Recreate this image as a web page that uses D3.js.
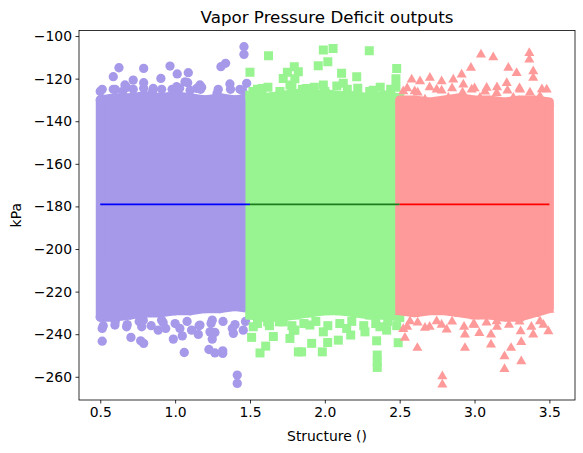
<!DOCTYPE html>
<html>
<head>
<meta charset="utf-8">
<script src="https://cdn.jsdelivr.net/npm/d3@7"></script>
<style>
  body { margin: 0; background: #fff; }
  text { font-family: "DejaVu Sans", sans-serif; fill: #000; }
</style>
</head>
<body>
<svg id="chart" width="583" height="453"></svg>
<script>
/*
  Vapor Pressure Deficit outputs - scatter of three structures
*/

// ---------------- data ----------------
var structures = ["purple", "green", "red"];
var colors = ["#a699ea", "#98f391", "#ff9a9a"];
var lineColors = ["#0000ff", "#1b7d1b", "#ff0000"];
var shapes = ["circle", "square", "triangle"];

var xTicks = [0.5, 1.0, 1.5, 2.0, 2.5, 3.0, 3.5];
var yTicks = [-260, -240, -220, -200, -180, -160, -140, -120, -100];

// each structure spans one unit of x
var spans = [[0.5, 1.5], [1.5, 2.5], [2.5, 3.5]];
var means = [-179.0, -179.0, -179.0];

// dense core of each cloud: top / bottom edge at stations 0.1 apart
var purpleX = [0.5, 0.6, 0.7, 0.8, 0.9, 1.0, 1.1, 1.2, 1.3, 1.4, 1.5];
var purpleTop = [-130, -129, -129, -128, -129, -128, -129, -130, -129, -130, -129];
var purpleBottom = [-232, -232, -231, -230, -230, -229, -229, -228, -228, -227, -228];

var greenX = [1.5, 1.6, 1.7, 1.8, 1.9, 2.0, 2.1, 2.2, 2.3, 2.4, 2.5];
var greenTop = [-128, -129, -128, -127, -128, -127, -128, -128, -129, -128, -129];
var greenBottom = [-231, -232, -232, -231, -230, -229, -229, -230, -231, -231, -232];

var redX = [2.5, 2.6, 2.7, 2.8, 2.9, 3.0, 3.1, 3.2, 3.3, 3.4, 3.5];
var redTop = [-130, -130, -131, -130, -129, -130, -130, -131, -130, -130, -131];
var redBottom = [-229, -230, -229, -229, -230, -231, -231, -232, -232, -230, -228];

// points packed just outside the core
var purpleFringe = [
  [0.5, -126], [0.6, -125], [0.65, -126], [0.72, -125], [0.79, -124.5], [0.85, -126],
  [0.91, -125], [0.98, -125], [1.03, -124.5], [1.1, -125.5], [1.17, -125], [1.28, -127],
  [1.37, -125], [1.45, -125.5],
  [0.52, -236], [0.6, -234], [0.68, -235.5], [0.76, -234], [0.84, -236], [0.92, -234.5],
  [1.0, -235], [1.08, -234], [1.16, -236], [1.24, -235], [1.32, -234], [1.4, -235.5],
  [1.47, -234]
];
var greenFringe = [
  [1.55, -125], [1.62, -124], [1.7, -126], [1.78, -123.5], [1.85, -125], [1.93, -124],
  [2.0, -126], [2.08, -123.5], [2.15, -125], [2.22, -124.5], [2.3, -126], [2.37, -124],
  [2.44, -125],
  [1.55, -235], [1.63, -236], [1.7, -234], [1.78, -236], [1.86, -235], [1.94, -234],
  [2.02, -236], [2.1, -235], [2.18, -234], [2.26, -236], [2.34, -235], [2.42, -234],
  [2.48, -236]
];
var redFringe = [
  [2.55, -124], [2.62, -126], [2.7, -123.5], [2.78, -125], [2.85, -124], [2.92, -126],
  [3.0, -124], [3.07, -125.5], [3.15, -123.5], [3.22, -125], [3.3, -124], [3.37, -126],
  [3.45, -124.5],
  [2.55, -236], [2.62, -234], [2.7, -236], [2.78, -235], [2.85, -233.5], [2.93, -236],
  [3.0, -235], [3.08, -234], [3.15, -236], [3.23, -235], [3.3, -233.5], [3.38, -236],
  [3.46, -235]
];

// scattered points further out
var purpleOutliers = [
  [1.46, -105], [1.46, -108.6], [0.625, -114.9], [0.79, -115.2], [0.966, -114.1],
  [1.088, -117.2], [1.306, -114.4], [1.337, -112.8], [0.587, -119.1], [1.014, -117.8],
  [0.905, -119.9], [0.513, -125], [0.72, -120.7], [0.79, -121.9], [1.084, -121.9],
  [1.177, -124.1], [1.288, -125], [1.366, -122.5], [1.478, -122.2], [1.288, -129.3],
  [0.587, -125], [0.676, -124.1], [0.854, -124.6], [1.01, -123.8], [1.144, -124.6],
  [1.433, -125], [1.166, -123], [0.665, -123], [1.066, -121.5],
  [0.513, -237.3], [0.513, -243.3], [0.705, -241.5], [0.77, -243.1], [0.79, -244.3],
  [0.777, -236.5], [0.887, -238.1], [0.937, -237.3], [0.91, -233.4], [0.988, -242.3],
  [1.048, -240.8], [1.061, -248.6], [1.11, -238.1], [1.155, -240.1], [1.233, -238.9],
  [1.266, -239.2], [1.248, -233.4], [1.248, -242.3], [1.226, -247.2], [1.266, -248.8],
  [1.318, -247.8], [1.318, -249], [1.389, -239.6], [1.382, -237.3], [1.455, -238.1],
  [1.415, -259.2], [1.415, -263.1], [0.598, -235.7], [0.676, -236.5], [1.032, -237.3],
  [1.166, -235.7], [0.787, -233.4]
];
var greenOutliers = [
  [1.624, -109.3], [1.99, -106.6], [2.055, -105.8], [2.297, -106.9], [1.5, -117],
  [1.956, -114], [2.02, -112.1], [2.48, -115.2], [1.796, -114.4], [1.823, -116.8],
  [1.722, -119.9], [2.112, -117.5], [2.213, -119.1], [1.582, -124.6], [1.879, -124.6],
  [1.99, -123], [2.123, -122.2], [2.324, -125.4], [2.413, -127.7], [1.656, -128.5],
  [1.767, -123], [2.475, -120], [2.475, -124], [1.52, -126], [1.8, -120], [1.75, -117],
  [1.511, -241.5], [1.567, -248.8], [1.605, -245.6], [1.656, -241.1], [1.618, -234.2],
  [1.696, -234.2], [1.522, -236.5], [1.767, -242], [1.789, -238.1], [1.823, -248.3],
  [1.845, -248.3], [1.912, -244.3], [1.983, -248.3], [2.019, -243.9], [2.09, -242.8],
  [2.173, -240.4], [2.268, -238.9], [2.346, -243.1], [2.35, -249.8], [2.35, -255.6],
  [2.35, -253], [2.49, -244], [1.8, -238.1], [1.99, -238.9], [2.413, -238.1],
  [1.722, -234.2], [1.9, -235.7], [2.146, -237.3], [2.368, -236.5]
];
var redOutliers = [
  [3.043, -108.1], [3.125, -109.4], [3.366, -107.4], [3.366, -110.5], [2.976, -114.4],
  [3.226, -114.4], [3.281, -116.8], [3.392, -116], [2.914, -117.5], [2.58, -119.9],
  [2.636, -120.7], [2.702, -119.1], [2.78, -120.7], [2.858, -119.9], [2.925, -122.2],
  [3.081, -123.8], [3.215, -121.5], [3.392, -119.1], [3.482, -124.6], [2.524, -125.4],
  [2.6, -125.4], [2.747, -124.6], [2.981, -124.6], [3.148, -126.2], [3.304, -124.6],
  [2.669, -129.3], [2.825, -128.5], [3.036, -128.5], [3.259, -128.5], [3.437, -127.7],
  [2.618, -245.9], [2.785, -259.2], [2.785, -263.1], [2.936, -245.9], [2.936, -239.6],
  [3.032, -238.9], [3.11, -239.6], [3.11, -244.3], [3.2, -249.8], [3.2, -255.8],
  [3.244, -245.9], [3.308, -238.1], [3.312, -243.1], [3.312, -252.2], [3.392, -239.6],
  [3.493, -238.1], [2.535, -241.1], [2.524, -237], [2.669, -236.5], [2.814, -237.3],
  [2.992, -234.9], [3.148, -233.4], [3.437, -233.4], [2.569, -233.4], [2.747, -233.4]
];

var coreX = [purpleX, greenX, redX];
var coreTop = [purpleTop, greenTop, redTop];
var coreBottom = [purpleBottom, greenBottom, redBottom];
var fringes = [purpleFringe, greenFringe, redFringe];
var outliers = [purpleOutliers, greenOutliers, redOutliers];

// ---------------- layout ----------------
var margin = {left: 79, top: 30.5};
var width = 496, height = 369.5;

var svg = d3.select("#chart");
var g = svg.append("g")
    .attr("transform", "translate(" + margin.left + "," + margin.top + ")");

var x = d3.scaleLinear().domain([0.358, 3.671]).range([0, width]);
var y = d3.scaleLinear().domain([-270.9, -97.4]).range([height, 0]);

g.append("clipPath").attr("id", "clip")
  .append("rect").attr("width", width).attr("height", height);

var plot = g.append("g").attr("clip-path", "url(#clip)");

var symbolTypes = {
    circle: d3.symbol().type(d3.symbolCircle).size(68),
    square: d3.symbol().type(d3.symbolSquare).size(81),
    triangle: d3.symbol().type(d3.symbolTriangle).size(44)
};

var area = d3.area()
    .x(function(d){ return x(d.x); })
    .y0(function(d){ return y(d.bottom); })
    .y1(function(d){ return y(d.top); });

// draw each cloud: core, edge markers, fringe, outliers
structures.forEach(function(name, i){
    var core = coreX[i].map(function(v, k){
        return {x: v, top: coreTop[i][k], bottom: coreBottom[i][k]};
    });
    var layer = plot.append("g").attr("class", name);

    layer.append("path")
        .datum(core)
        .attr("d", area)
        .attr("fill", colors[i])
        .attr("stroke", colors[i])
        .attr("stroke-width", 9)
        .attr("stroke-linejoin", shapes[i] == "square" ? "miter" : "round");

    var edge = [];
    core.forEach(function(d){
        edge.push([d.x, d.top]);
        edge.push([d.x, d.bottom]);
    });
    var pts = edge.concat(fringes[i], outliers[i]);
    var dy = shapes[i] == "triangle" ? 1.2 : 0;

    layer.selectAll("path.pt")
        .data(pts)
        .enter().append("path")
        .attr("class", "pt")
        .attr("d", symbolTypes[shapes[i]])
        .attr("transform", function(d){
            return "translate(" + x(d[0]) + "," + (y(d[1]) + dy) + ")";
        })
        .attr("fill", colors[i]);
});

// mean lines
structures.forEach(function(name, i){
    plot.append("line")
        .attr("x1", x(spans[i][0])).attr("x2", x(spans[i][1]))
        .attr("y1", y(means[i])).attr("y2", y(means[i]))
        .attr("stroke", lineColors[i])
        .attr("stroke-width", 1.8);
});

// axes
var xAxis = d3.axisBottom(x).tickValues(xTicks).tickFormat(d3.format(".1f"))
    .tickSize(3.5).tickPadding(3.5).tickSizeOuter(0);
var yAxis = d3.axisLeft(y).tickValues(yTicks).tickFormat(d3.format("d"))
    .tickSize(3.5).tickPadding(3.5).tickSizeOuter(0);

var gx = g.append("g").attr("transform", "translate(0," + height + ")").call(xAxis);
var gy = g.append("g").call(yAxis);

[gx, gy].forEach(function(ax){
    ax.select(".domain").remove();
    ax.selectAll(".tick line").attr("stroke", "#000").attr("stroke-width", 0.8);
    ax.selectAll(".tick text")
        .style("font-family", "DejaVu Sans")
        .style("font-size", "13.9px")
        .attr("fill", "#000");
});

// frame
g.append("rect")
    .attr("width", width).attr("height", height)
    .attr("fill", "none").attr("stroke", "#000").attr("stroke-width", 0.8);

// titles
svg.append("text")
    .attr("x", margin.left + width / 2).attr("y", 22.5)
    .attr("text-anchor", "middle")
    .style("font-size", "16.7px")
    .text("Vapor Pressure Deficit outputs");

svg.append("text")
    .attr("x", margin.left + width / 2).attr("y", 441)
    .attr("text-anchor", "middle")
    .style("font-size", "13.9px")
    .text("Structure ()");

svg.append("text")
    .attr("transform", "translate(21," + (margin.top + height / 2) + ") rotate(-90)")
    .attr("text-anchor", "middle")
    .style("font-size", "13.9px")
    .text("kPa");
</script>
</body>
</html>
